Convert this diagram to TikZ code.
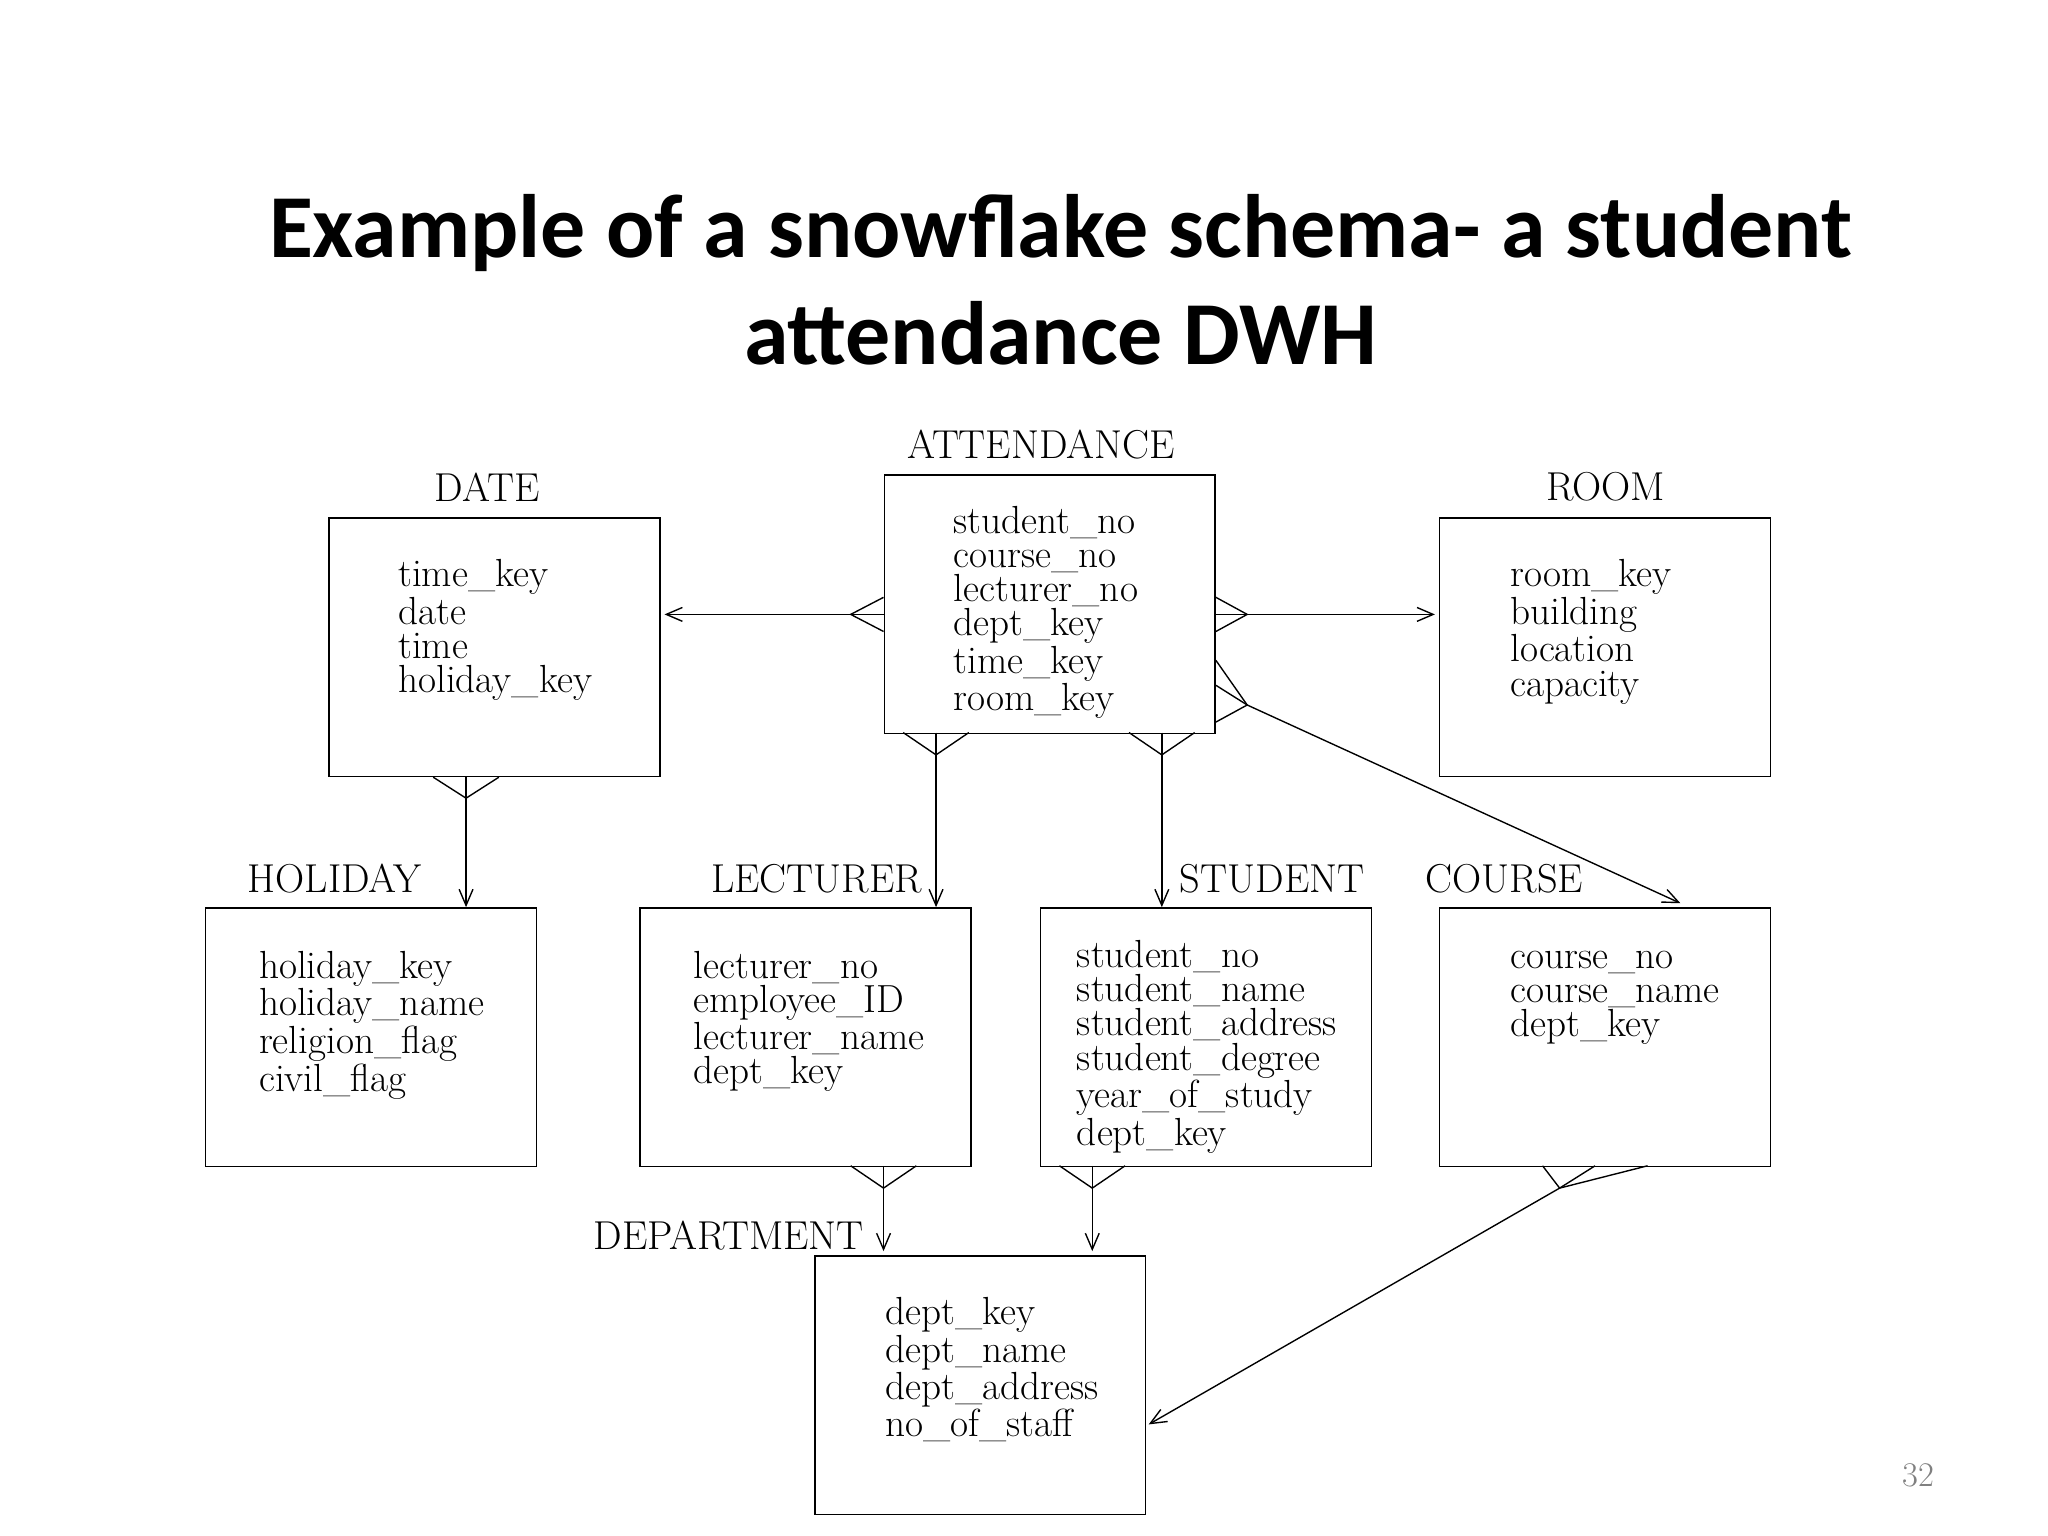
\documentclass[tikz,border=0pt]{standalone}
\usepackage{fontspec}
\newfontfamily\titlefont{Carlito}
\usetikzlibrary{arrows.meta,calc}
\begin{document}
\begin{tikzpicture}[x=0.02cm,y=-0.02cm,
  box/.style={draw,line width=0.7pt,anchor=north west,minimum width=5.04cm,minimum height=3.94cm,inner sep=0pt},
  fields/.style={anchor=north west,align=left,inner sep=0pt,font=\fontsize{17}{14.8}\selectfont},
  lbl/.style={inner sep=0pt,font=\fontsize{17.5}{17.5}\selectfont},
  ln/.style={line width=0.6pt},
  arr/.style={line width=0.6pt,-{Straight Barb[length=7pt,width=6pt]}}]
\useasboundingbox (0,0) rectangle (1560,1170);
\node[font=\titlefont\bfseries\fontsize{39}{46.6}\selectfont,align=center] (title) at (808,213) {Example of a snowflake schema- a student\\attendance DWH};
\node[text=gray,font=\fontsize{15}{15}\selectfont] (pg) at (1461,1124) {32};
% boxes
\node[box] (date) at (250,394) {};
\node[box] (att) at (673,361) {};
\node[box] (room) at (1096,394) {};
\node[box] (hol) at (156,691) {};
\node[box] (lec) at (487,691) {};
\node[box] (stu) at (792,691) {};
\node[box] (cou) at (1096,691) {};
\node[box] (dep) at (620,956) {};
% labels
\node[lbl] (ldate) at (371,371) {DATE};
\node[lbl] (latt) at (793,339) {ATTENDANCE};
\node[lbl] (lroom) at (1223,371) {ROOM};
\node[lbl] (lhol) at (255,669) {HOLIDAY};
\node[lbl] (llec) at (622,669) {LECTURER};
\node[lbl] (lstu) at (969,669) {STUDENT};
\node[lbl] (lcou) at (1146,669) {COURSE};
\node[lbl] (ldep) at (555,941) {DEPARTMENT};
% fields
\node[fields] (fatt) at (726,385) {student\_no\\course\_no\\lecturer\_no\\dept\_key\\time\_key\\room\_key};
\node[fields] (fdate) at (303,426) {time\_key\\date\\time\\holiday\_key};
\node[fields] (froom) at (1150,426) {room\_key\\building\\location\\capacity};
\node[fields] (fhol) at (197,724) {holiday\_key\\holiday\_name\\religion\_flag\\civil\_flag};
\node[fields] (flec) at (528,724) {lecturer\_no\\employee\_ID\\lecturer\_name\\dept\_key};
\node[fields] (fstu) at (820,716) {student\_no\\student\_name\\student\_address\\student\_degree\\year\_of\_study\\dept\_key};
\node[fields] (fcou) at (1150,724) {course\_no\\course\_name\\dept\_key};
\node[fields] (fdep) at (674,988) {dept\_key\\dept\_name\\dept\_address\\no\_of\_staff};
% ATT -> DATE
\coordinate (a1) at (648,468);
\draw[ln] (att.west |- 0,455) -- (a1) -- (att.west |- 0,481);
\draw[arr] (att.west |- a1) -- ($(date.east |- a1)+(3,0)$);
% ATT -> ROOM
\coordinate (a2) at (950,468);
\draw[ln] (att.east |- 0,455) -- (a2) -- (att.east |- 0,481);
\draw[arr] (att.east |- a2) -- ($(room.west |- a2)+(-3,0)$);
% ATT -> COURSE
\coordinate (a3) at (950,537);
\coordinate (c3) at (1280,688);
\draw[ln] (att.east |- 0,503) -- (a3) -- (att.east |- 0,550);
\draw[ln] (att.east |- 0,522) -- (a3);
\draw[arr] (a3) -- (c3);
% ATT -> LECTURER
\coordinate (a4) at (713,575);
\draw[ln] (688,558) -- (a4) -- (738,558);
\draw[arr] (713,558) -- (lec.north -| a4);
% ATT -> STUDENT
\coordinate (a5) at (885,575);
\draw[ln] (860,558) -- (a5) -- (910,558);
\draw[arr] (885,558) -- (stu.north -| a5);
% DATE -> HOLIDAY
\coordinate (a6) at (355,608);
\draw[ln] (330,592) -- (a6) -- (380,592);
\draw[arr] (355,592) -- (hol.north -| a6);
% LECTURER -> DEPT
\coordinate (a7) at (673,905);
\draw[ln] (648,888) -- (a7) -- (698,888);
\draw[arr] (673,888) -- ($(dep.north -| a7)+(0,-3)$);
% STUDENT -> DEPT
\coordinate (a8) at (832,905);
\draw[ln] (807,888) -- (a8) -- (857,888);
\draw[arr] (832,888) -- ($(dep.north -| a8)+(0,-3)$);
% COURSE -> DEPT
\coordinate (a9) at (1188,905);
\coordinate (d9) at (875,1085);
\draw[ln] (1175,888) -- (a9) -- (1255,888);
\draw[ln] (1215,888) -- (a9);
\draw[arr] (a9) -- (d9);
\end{tikzpicture}
\end{document}
